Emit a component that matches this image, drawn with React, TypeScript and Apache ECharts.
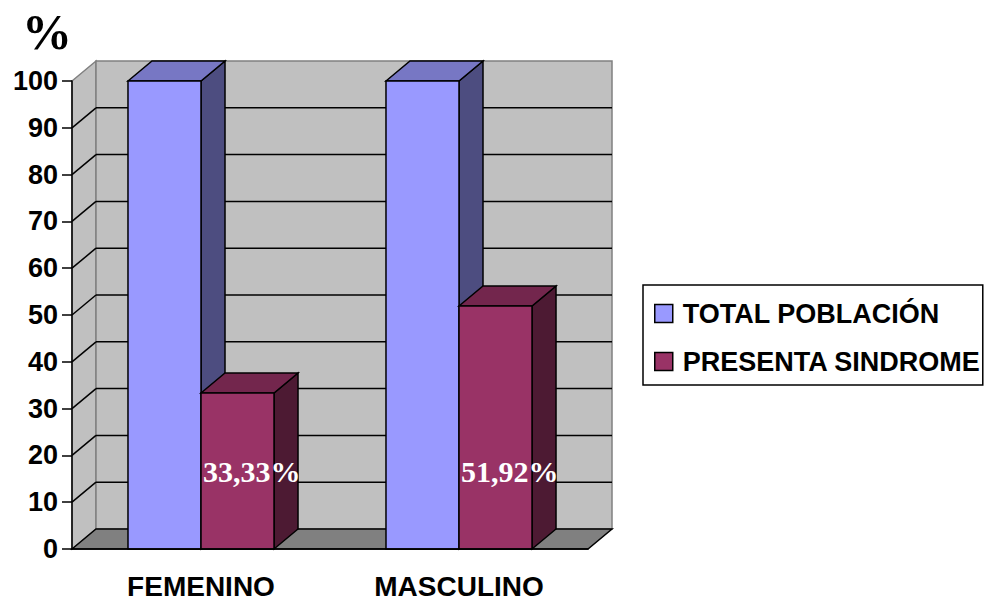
import React, { useEffect, useRef } from "react";
import * as echarts from "echarts";

// Chart data
const categories = ["FEMENINO", "MASCULINO"];
const seriesNames = ["TOTAL POBLACIÓN", "PRESENTA SINDROME"];
const totalPoblacion = [100, 100];
const presentaSindrome = [33.33, 51.92];
const yTicks = [0, 10, 20, 30, 40, 50, 60, 70, 80, 90, 100];

// 3D look: depth offset of the walls and the boxes
const DX = 24;
const DY = 20;
const BAR_FRACTION = 0.283;

const SANS = '"Liberation Sans", Arial, sans-serif';
const SERIF = '"Liberation Serif", "Times New Roman", serif';

type Palette = { front: string; top: string; side: string };

const palettes: Palette[] = [
  { front: "#9999FF", top: "#7777C4", side: "#4D4D80" },
  { front: "#993366", top: "#73264D", side: "#4D1A33" },
];

const fmt = (v: number) => v.toFixed(2).replace(".", ",") + "%";

function makeBoxRenderer(slot: number, pal: Palette, withLabel: boolean) {
  return (params: any, api: any) => {
    const cat = api.value(0);
    const val = api.value(1);
    const top = api.coord([cat, val]);
    const base = api.coord([cat, 0]);
    const bandW = api.size([1, 0])[0];
    const w = bandW * BAR_FRACTION;
    const xL = top[0] + (slot === 0 ? -w : 0);
    const yT = top[1];
    const yB = base[1];
    const stroke = { stroke: "#000", lineWidth: 1.5 };
    const children: any[] = [
      {
        type: "polygon",
        shape: {
          points: [
            [xL + w, yT],
            [xL + w + DX, yT - DY],
            [xL + w + DX, yB - DY],
            [xL + w, yB],
          ],
        },
        style: { fill: pal.side, ...stroke },
      },
      {
        type: "polygon",
        shape: {
          points: [
            [xL, yT],
            [xL + DX, yT - DY],
            [xL + w + DX, yT - DY],
            [xL + w, yT],
          ],
        },
        style: { fill: pal.top, ...stroke },
      },
      {
        type: "rect",
        shape: { x: xL, y: yT, width: w, height: yB - yT },
        style: { fill: pal.front, ...stroke },
      },
    ];
    if (withLabel) {
      children.push({
        type: "text",
        x: xL + 2,
        y: yB - 78,
        style: {
          text: fmt(val),
          fill: "#fff",
          font: `bold 30px ${SERIF}`,
          align: "left",
          verticalAlign: "middle",
        },
      });
    }
    return { type: "group", children };
  };
}

function renderWalls(params: any, api: any) {
  const cs = params.coordSys;
  const x0 = cs.x;
  const x1 = cs.x + cs.width;
  const yTop = cs.y;
  const yBot = cs.y + cs.height;
  const wall = { fill: "#C0C0C0", stroke: "#808080", lineWidth: 1.5 };
  const children: any[] = [
    {
      type: "polygon",
      shape: {
        points: [
          [x0, yTop],
          [x0 + DX, yTop - DY],
          [x0 + DX, yBot - DY],
          [x0, yBot],
        ],
      },
      style: wall,
    },
    {
      type: "rect",
      shape: { x: x0 + DX, y: yTop - DY, width: x1 - x0, height: yBot - yTop },
      style: wall,
    },
    {
      type: "polygon",
      shape: {
        points: [
          [x0, yBot],
          [x0 + DX, yBot - DY],
          [x1 + DX, yBot - DY],
          [x1, yBot],
        ],
      },
      style: { fill: "#808080", stroke: "#000", lineWidth: 1.5 },
    },
  ];
  yTicks.forEach((v) => {
    if (v === 0 || v === yTicks[yTicks.length - 1]) return;
    const y = api.coord([0, v])[1];
    children.push({
      type: "line",
      shape: { x1: x0, y1: y, x2: x0 + DX, y2: y - DY },
      style: { stroke: "#000", lineWidth: 1.5 },
    });
    children.push({
      type: "line",
      shape: { x1: x0 + DX, y1: y - DY, x2: x1 + DX, y2: y - DY },
      style: { stroke: "#000", lineWidth: 1.5 },
    });
  });
  return { type: "group", children };
}

export default function App() {
  const ref = useRef<HTMLDivElement>(null);

  useEffect(() => {
    if (!ref.current) return;
    const chart = echarts.init(ref.current, undefined, { renderer: "svg" });
    const boxData = (vals: number[]) => vals.map((v, i) => [i, v]);
    chart.setOption({
      animation: false,
      backgroundColor: "#fff",
      title: {
        text: "%",
        left: 22,
        top: 7,
        padding: 0,
        textStyle: { fontFamily: SERIF, fontWeight: "bold", fontSize: 50, color: "#000" },
      },
      legend: {
        orient: "vertical",
        left: 643,
        top: 285,
        padding: [15, 2, 10, 11],
        itemGap: 21,
        itemWidth: 18,
        itemHeight: 18,
        borderColor: "#000",
        borderWidth: 1.5,
        icon: "rect",
        selectedMode: false,
        data: seriesNames.map((name, i) => ({
          name,
          itemStyle: { color: palettes[i].front, borderColor: "#000", borderWidth: 1.5 },
        })),
        textStyle: {
          fontFamily: SANS,
          fontWeight: "bold",
          fontSize: 27,
          color: "#000",
          padding: [0, 0, 0, 5],
        },
      },
      grid: { left: 72, right: 398, top: 81, bottom: 50 },
      xAxis: {
        type: "category",
        data: categories,
        z: 5,
        axisLine: { lineStyle: { color: "#000", width: 1.5 } },
        axisTick: { length: 10, lineStyle: { color: "#000", width: 1.5 } },
        axisLabel: {
          margin: 23,
          fontFamily: SANS,
          fontWeight: "bold",
          fontSize: 28,
          color: "#000",
        },
        splitLine: { show: false },
      },
      yAxis: {
        type: "value",
        min: 0,
        max: 100,
        interval: 10,
        z: 5,
        axisLine: { show: true, lineStyle: { color: "#000", width: 1.5 } },
        axisTick: { show: true, length: 10, lineStyle: { color: "#000", width: 1.5 } },
        axisLabel: {
          margin: 14,
          fontFamily: SANS,
          fontWeight: "bold",
          fontSize: 27,
          color: "#000",
        },
        splitLine: { show: false },
      },
      series: [
        {
          type: "custom",
          name: "walls",
          silent: true,
          z: 1,
          renderItem: renderWalls,
          data: [[0, 0]],
        },
        {
          type: "custom",
          name: seriesNames[0],
          z: 3,
          itemStyle: { color: palettes[0].front },
          renderItem: makeBoxRenderer(0, palettes[0], false),
          data: boxData(totalPoblacion),
        },
        {
          type: "custom",
          name: seriesNames[1],
          z: 3,
          itemStyle: { color: palettes[1].front },
          renderItem: makeBoxRenderer(1, palettes[1], true),
          data: boxData(presentaSindrome),
        },
      ],
    });
    return () => chart.dispose();
  }, []);

  return (
    <div
      ref={ref}
      style={{ position: "fixed", left: 0, top: 0, width: 986, height: 600, background: "#fff" }}
    />
  );
}
